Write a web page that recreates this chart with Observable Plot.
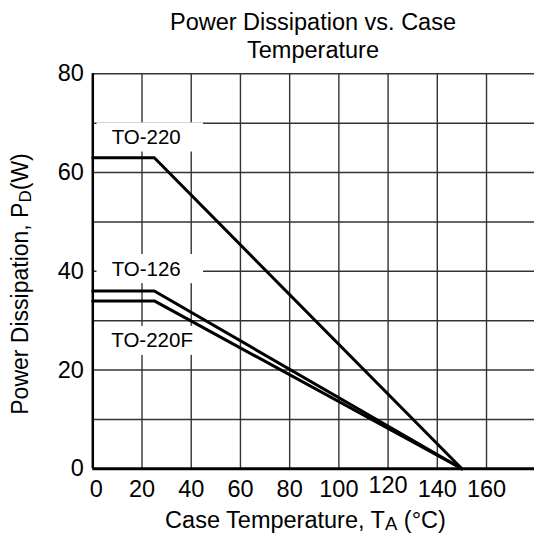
<!DOCTYPE html>
<html><head><meta charset="utf-8">
<script src="https://cdn.jsdelivr.net/npm/d3@7"></script>
<script src="https://cdn.jsdelivr.net/npm/@observablehq/plot@0.6"></script>
<style>
body{margin:0;background:#fff;font-family:"Liberation Sans",Arial,Helvetica,sans-serif;}
#title{margin-left:92px;width:442px;text-align:center;font-size:23.5px;line-height:28px;padding-top:8px;height:56px;color:#000;}
#chart svg{display:block;}
</style></head><body>
<div id="title">Power Dissipation vs. Case<br>Temperature</div>
<div id="chart"></div>
<script>
// ---- data ----
const seriesNames = ["TO-220", "TO-126", "TO-220F"];
const caseTemps = [0, 25, 150];            // °C breakpoints
const pdTO220 = [63, 63, 0];               // W
const pdTO126 = [36, 36, 0];
const pdTO220F = [34, 34, 0];
const xTicks = [0, 20, 40, 60, 80, 100, 120, 140, 160];
const yTicks = [0, 20, 40, 60, 80];
const xGrid = [20, 40, 60, 80, 100, 120, 140, 160];
const yGrid = [10, 20, 30, 40, 50, 60, 70, 80];
// annotation anchors (data units)
const labelX = [21.7, 21.7, 24.1];
const labelY = [67.1, 40.45, 25.9];

const seriesValues = [pdTO220, pdTO126, pdTO220F];
const rows = [];
seriesNames.forEach((s, i) => caseTemps.forEach((t, j) => rows.push({series: s, t, p: seriesValues[i][j]})));
const labels = seriesNames.map((s, i) => ({text: s, x: labelX[i], y: labelY[i]}));

const FONT = '"Liberation Sans", Arial, Helvetica, sans-serif';
const TOP = 64;
const W = 534, H = 537 - TOP;

const plot = Plot.plot({
  width: W, height: H,
  marginTop: 9.3, marginBottom: 68.7, marginLeft: 92.3, marginRight: 0,
  x: {domain: [0, 179.5]},
  y: {domain: [0, 80]},
  style: {fontFamily: FONT, fontSize: "23px", color: "#000", background: "#fff", overflow: "visible"},
  marks: [
    Plot.ruleX(xGrid, {stroke: "#333", strokeWidth: 1.4}),
    Plot.ruleY(yGrid, {stroke: "#333", strokeWidth: 1.4}),
    Plot.rect(labels, {x1: d => d.x - 20, x2: d => d.x + 23.3, y1: d => d.y - 2.95, y2: d => d.y + 2.95, fill: "#fff"}),
    Plot.line(rows, {x: "t", y: "p", z: "series", stroke: "#000", strokeWidth: 3, strokeLinejoin: "miter"}),
    Plot.ruleX([0], {stroke: "#000", strokeWidth: 2.5}),
    Plot.ruleY([0], {stroke: "#000", strokeWidth: 3}),
    Plot.text(labels, {x: "x", y: "y", text: "text", fontSize: 20.5, fill: "#000"}),
    Plot.axisY(yTicks, {tickSize: 0, tickPadding: 9, label: null, fontSize: 23.5}),
    Plot.axisX(xTicks.filter(d => d !== 0 && d !== 120), {tickSize: 0, tickPadding: 12, label: null, fontSize: 23.5}),
    Plot.axisX(xTicks.filter(d => d === 0), {tickSize: 0, tickPadding: 12, label: null, fontSize: 23.5, dx: 3.5}),
    Plot.axisX(xTicks.filter(d => d === 120), {tickSize: 0, tickPadding: 12, label: null, fontSize: 23.5, dy: -4})
  ]
});

const svg = d3.select(plot);
// x-axis label with subscript
const xl = svg.append("text")
  .attr("x", 305.5).attr("y", 528 - TOP)
  .attr("text-anchor", "middle")
  .attr("font-family", FONT).attr("font-size", 23.5).attr("fill", "#000");
xl.append("tspan").text("Case Temperature, T");
xl.append("tspan").attr("font-size", 18.5).attr("dy", 2.3).text("A");
xl.append("tspan").attr("dy", -2.3).text(" (°C)");

// y-axis label with subscript
const yl = svg.append("text")
  .attr("transform", `translate(28.3,${284 - TOP}) rotate(-90)`)
  .attr("text-anchor", "middle")
  .attr("font-family", FONT).attr("font-size", 23).attr("fill", "#000");
yl.append("tspan").text("Power Dissipation, P");
yl.append("tspan").attr("font-size", 17).attr("dy", 2.3).text("D");
yl.append("tspan").attr("dy", -2.3).text("(W)");

document.getElementById("chart").appendChild(plot);
</script></body></html>
